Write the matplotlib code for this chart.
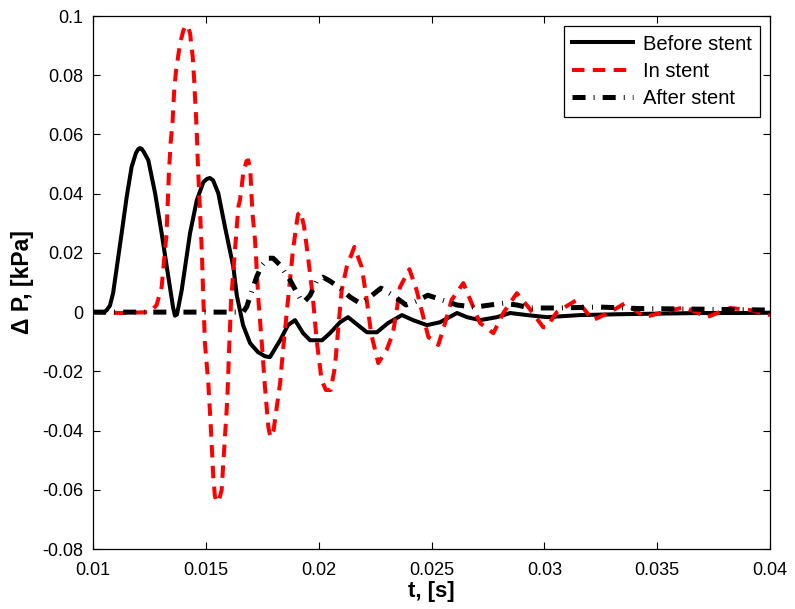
import numpy as np
import matplotlib
matplotlib.use("Agg")
import matplotlib.pyplot as plt

plt.rcParams["font.family"] = ["Liberation Sans", "DejaVu Sans"]
plt.rcParams["lines.scale_dashes"] = False

# (t [s], dP [kPa])
before_stent = [
    (0.0100, 0.0), (0.0105, 0.0), (0.01061, 0.0007), (0.01075, 0.0022),
    (0.01089, 0.0064), (0.01127, 0.0267), (0.01149, 0.0388), (0.01171, 0.0490),
    (0.01190, 0.0537), (0.01200, 0.0550), (0.01208, 0.0554), (0.01216, 0.0551),
    (0.01225, 0.0541), (0.01245, 0.0513),
    (0.01275, 0.0402), (0.01304, 0.0267), (0.01334, 0.0118), (0.01355, 0.0015),
    (0.01363, -0.0012), (0.01372, -0.0008), (0.01393, 0.0074), (0.01430, 0.0267),
    (0.01460, 0.0378), (0.01489, 0.0439), (0.01505, 0.0450), (0.01518, 0.0453),
    (0.01532, 0.0445), (0.01555, 0.0402),
    (0.01585, 0.0287), (0.01622, 0.0152), (0.01637, 0.0057), (0.01665, -0.0044),
    (0.01696, -0.0105), (0.01731, -0.0135), (0.01762, -0.0149), (0.01784, -0.0152),
    (0.01829, -0.0095), (0.01864, -0.0044), (0.01895, -0.0027), (0.01931, -0.0071),
    (0.01962, -0.0095), (0.02015, -0.0095), (0.02050, -0.0071), (0.02095, -0.0034),
    (0.02130, -0.0017), (0.02174, -0.0044), (0.02214, -0.0068), (0.02258, -0.0068),
    (0.02307, -0.0037), (0.02369, -0.0010), (0.02418, -0.0027), (0.02480, -0.0044),
    (0.02538, -0.0034), (0.02613, -0.0003), (0.02657, -0.0017), (0.02715, -0.0027),
    (0.02790, -0.0017), (0.02848, -0.0003), (0.02923, -0.0010), (0.03012, -0.0017),
    (0.03158, -0.0010), (0.03335, -0.0007), (0.03513, -0.0005), (0.03690, -0.0003),
    (0.03867, -0.0003), (0.04000, -0.0002),
]

in_stent = [
    (0.0100, 0.0), (0.0112, -0.0003), (0.01253, 0.0), (0.01282, 0.0024),
    (0.01304, 0.0084), (0.01326, 0.0267), (0.01332, 0.0388), (0.01337, 0.0480),
    (0.01344, 0.0571), (0.01353, 0.0648), (0.01359, 0.0740), (0.01368, 0.0817),
    (0.01386, 0.0908), (0.01400, 0.0950), (0.01408, 0.0964), (0.01415, 0.0969),
    (0.01422, 0.0962), (0.01430, 0.0942),
    (0.01442, 0.0861), (0.01449, 0.0773), (0.01455, 0.0682), (0.01460, 0.0605),
    (0.01464, 0.0513), (0.01470, 0.0412), (0.01482, 0.0209), (0.01489, 0.0041),
    (0.01496, -0.0105), (0.01511, -0.0240), (0.01522, -0.0388), (0.01533, -0.0557),
    (0.01540, -0.0620), (0.01548, -0.0642), (0.01558, -0.0635), (0.01570, -0.0601),
    (0.01581, -0.0466), (0.01595, -0.0297), (0.01603, -0.0128), (0.01612, 0.0041),
    (0.01629, 0.0209), (0.01644, 0.0355), (0.01651, 0.0378), (0.01666, 0.0469),
    (0.01680, 0.0510), (0.01688, 0.0513), (0.01697, 0.0480), (0.01706, 0.0340),
    (0.01718, 0.0243), (0.01733, 0.0041), (0.01748, -0.0105), (0.01762, -0.0253),
    (0.01777, -0.0388), (0.01786, -0.0422), (0.01800, -0.0400), (0.01829, -0.0240),
    (0.01842, -0.0128), (0.01864, 0.0041), (0.01886, 0.0209), (0.01908, 0.0330),
    (0.01920, 0.0339), (0.01935, 0.0290), (0.01953, 0.0186), (0.01974, 0.0051),
    (0.01991, -0.0095), (0.02013, -0.0230), (0.02032, -0.0263), (0.02053, -0.0263),
    (0.02072, -0.0186), (0.02087, -0.0051), (0.02102, 0.0074), (0.02124, 0.0152),
    (0.02158, 0.0220), (0.02191, 0.0152), (0.02213, 0.0041), (0.02232, -0.0071),
    (0.02264, -0.0172), (0.02301, -0.0128), (0.02329, -0.0071), (0.02346, 0.0007),
    (0.02360, 0.0084), (0.02402, 0.0145), (0.02434, 0.0074), (0.02456, 0.0007),
    (0.02486, -0.0084), (0.02530, -0.0111), (0.02560, -0.0037), (0.02589, 0.0041),
    (0.02641, 0.0098), (0.02678, 0.0030), (0.02715, -0.0037), (0.02774, -0.0071),
    (0.02818, -0.0003), (0.02878, 0.0064), (0.02929, 0.0017), (0.02995, -0.0051),
    (0.03010, -0.0051), (0.03055, 0.0), (0.03143, 0.0041), (0.03216, -0.0027),
    (0.03291, 0.0), (0.03357, 0.0030), (0.03446, -0.0017), (0.03526, 0.0),
    (0.03623, 0.0017), (0.03721, -0.0017), (0.03823, 0.0014), (0.03911, 0.0007),
    (0.04000, -0.0010),
]

after_stent = [
    (0.0100, 0.0), (0.01665, 0.0), (0.01681, 0.0018), (0.01725, 0.0119),
    (0.01749, 0.0159), (0.01775, 0.0182), (0.01798, 0.0182), (0.01829, 0.0159),
    (0.01873, 0.0108), (0.01917, 0.0047), (0.01935, 0.0034), (0.01962, 0.0057),
    (0.01993, 0.0108), (0.02019, 0.0118), (0.02050, 0.0105), (0.02095, 0.0081),
    (0.02139, 0.0051), (0.02183, 0.0030), (0.02227, 0.0051), (0.02276, 0.0081),
    (0.02329, 0.0057), (0.02387, 0.0024), (0.02431, 0.0037), (0.02484, 0.0057),
    (0.02547, 0.0041), (0.02613, 0.0024), (0.02693, 0.0017), (0.02759, 0.0024),
    (0.02817, 0.0030), (0.02879, 0.0024), (0.02936, 0.0014), (0.03056, 0.0014),
    (0.03247, 0.0017), (0.03424, 0.0012), (0.03690, 0.0010), (0.04000, 0.0007),
]

x_ticks = [0.01, 0.015, 0.02, 0.025, 0.03, 0.035, 0.04]
y_ticks = [-0.08, -0.06, -0.04, -0.02, 0, 0.02, 0.04, 0.06, 0.08, 0.1]

fig = plt.figure(figsize=(7.95, 6.09), dpi=100)
ax = fig.add_axes([0.117, 0.0985, 0.8516, 0.8752])

t, p = zip(*before_stent)
ax.plot(t, p, color="black", lw=2.9, solid_joinstyle="round", label="Before stent")

t, p = zip(*in_stent)
ax.plot(t, p, color="red", lw=2.9, dashes=(9, 6), label="In stent")

t, p = zip(*after_stent)
ax.plot(t, p, color="black", lw=3.6, dashes=(9.4, 5.8, 0.7, 5.8), label="After stent")

ax.set_xlim(0.01, 0.04)
ax.set_ylim(-0.08, 0.1)
ax.set_xticks(x_ticks)
ax.set_yticks(y_ticks)
ax.set_xticklabels(["%g" % v for v in x_ticks])
ax.set_yticklabels(["%g" % v for v in y_ticks])
ax.tick_params(direction="in", top=True, right=True, length=5, width=0.8,
               labelsize=13)
ax.tick_params(axis="x", pad=9)
ax.tick_params(axis="y", pad=7)
for s in ax.spines.values():
    s.set_linewidth(0.9)

ax.set_xlabel("t, [s]", fontsize=16, fontweight="bold", labelpad=2)
ax.set_ylabel("\u0394 P, [kPa]", fontsize=16.5, fontweight="bold", labelpad=6)

leg = ax.legend(loc="upper right", fontsize=14.5, handlelength=3.0, fancybox=False,
                edgecolor="black", framealpha=1, borderaxespad=0.5,
                labelspacing=0.42, handletextpad=0.5, borderpad=0.42)
leg.get_frame().set_linewidth(0.9)

fig.savefig("out.png", dpi=100)
